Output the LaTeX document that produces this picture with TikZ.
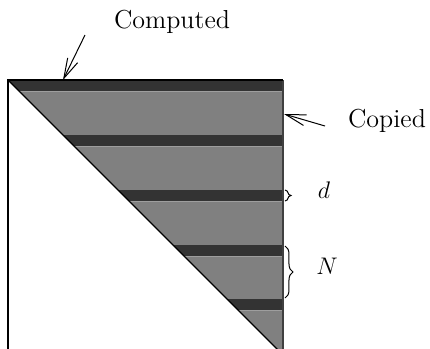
\documentclass[tikz,border=0pt]{standalone}
\usepackage{tikz}
\usetikzlibrary{arrows.meta, positioning, decorations.pathreplacing}

\begin{document}
\begin{tikzpicture}[
    x=0.5pt, y=-0.5pt,
    lbl/.style={font=\fontsize{13}{15}\selectfont, inner sep=0pt},
    arr/.style={-{Straight Barb[length=10pt, width=5.5pt]}, line width=0.5pt},
    band/.style={fill=black!80, draw=none},
    brc/.style={decorate, decoration={brace, amplitude=#1}, line width=0.5pt}
]
    \useasboundingbox (0,0) rectangle (430,349);

    % Triangle with the stripes
    \fill[black!50] (8,80) -- (283,80) -- (283,355) -- cycle;
    \begin{scope}
        \clip (8,80) -- (283,80) -- (283,355) -- cycle;
        \foreach \y in {80,135,190,245,299} {
            \fill[band] (8,\y) rectangle (283,\y+11);
            \draw[black!38, line width=0.4pt] (8,\y+11.5) -- (283,\y+11.5);
        }
    \end{scope}
    \draw[black!75, line width=0.6pt] (283,80) -- (283,355);
    \draw[line width=0.7pt] (8,355) -- (8,80) -- (283,80);
    \draw[line width=0.7pt] (8,80) -- (283,355);

    % Labels
    \node[lbl] (comp) at (172,22) {Computed};
    \node[lbl] (copy) at (387,121) {Copied};
    \node[lbl] (dlbl) at (324,190) {$d$};
    \node[lbl] (nlbl) at (327,266) {$N$};

    \coordinate (comptail) at (85,35);
    \coordinate (comptip) at (63,80);
    \coordinate (copytail) at (325,126);
    \coordinate (copytip) at (284,114);

    \draw[arr] (comptail) -- (comptip);
    \draw[arr] (copytail) -- (copytip);

    % Braces
    \coordinate (dtop) at (285,190);
    \coordinate (dbot) at (285,201);
    \coordinate (ntop) at (285,246);
    \coordinate (nbot) at (285,298);
    \draw[brc=3pt] (dtop) -- (dbot);
    \draw[brc=4pt] (ntop) -- (nbot);
\end{tikzpicture}
\end{document}
